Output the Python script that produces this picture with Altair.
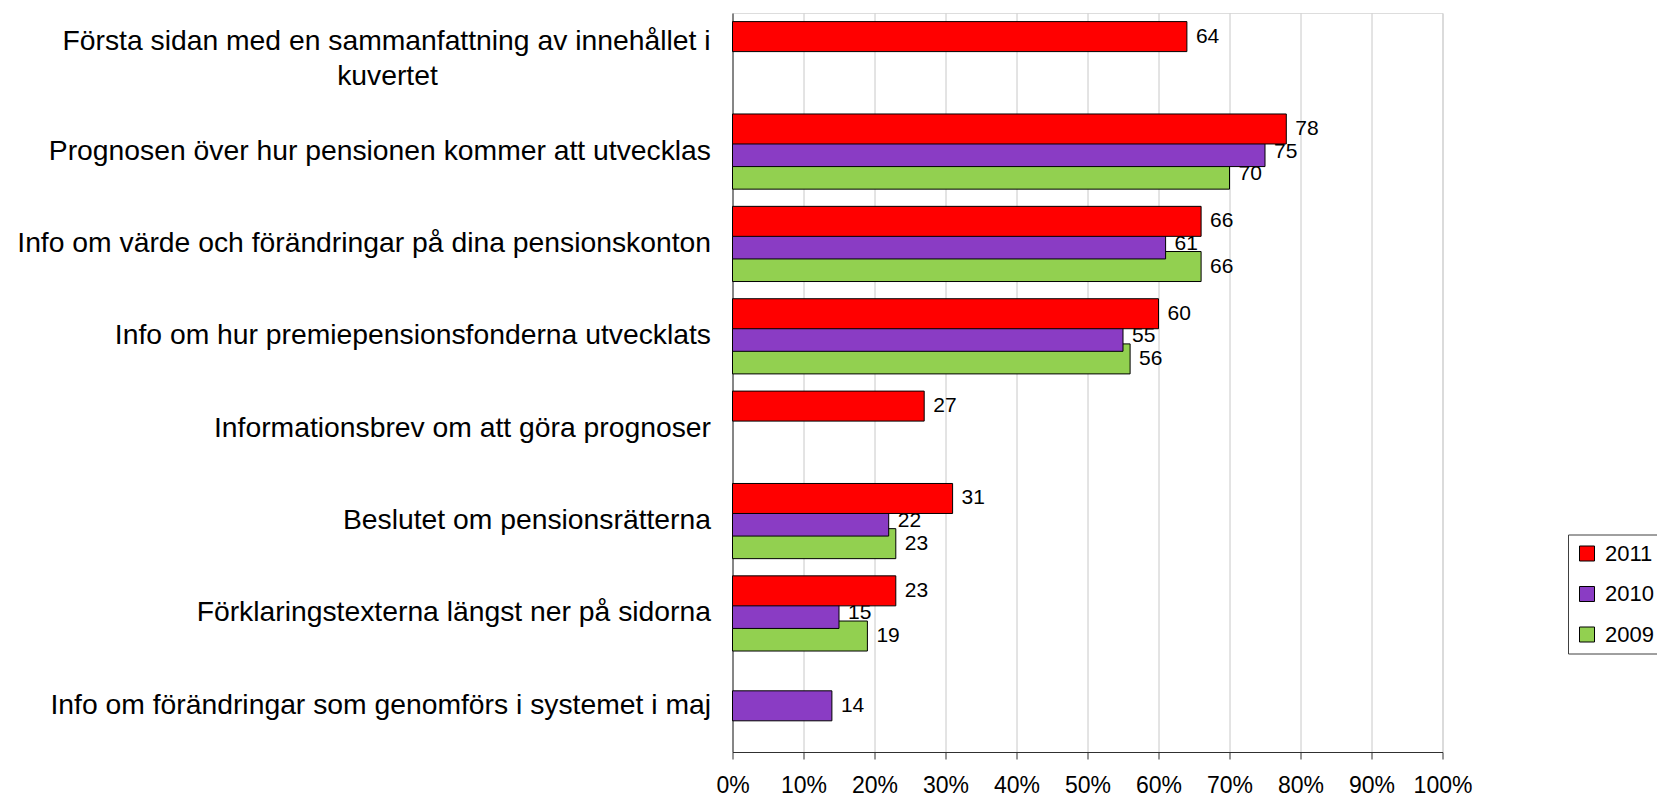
import altair as alt
import pandas as pd

categories = [
    "Första sidan med en sammanfattning av innehållet i kuvertet",
    "Prognosen över hur pensionen kommer att utvecklas",
    "Info om värde och förändringar på dina pensionskonton",
    "Info om hur premiepensionsfonderna utvecklats",
    "Informationsbrev om att göra prognoser",
    "Beslutet om pensionsrätterna",
    "Förklaringstexterna längst ner på sidorna",
    "Info om förändringar som genomförs i systemet i maj",
]
years = ["2011", "2010", "2009"]
v2011 = [64, 78, 66, 60, 27, 31, 23, None]
v2010 = [None, 75, 61, 55, None, 22, 15, 14]
v2009 = [None, 70, 66, 56, None, 23, 19, None]
colors = ["#FF0000", "#8A3CC4", "#92D050"]
wrapped_lines = ["Första sidan med en sammanfattning av innehållet i", "kuvertet"]
x_ticks = [0, 10, 20, 30, 40, 50, 60, 70, 80, 90, 100]

FONT = "Liberation Sans"

rows = []
for yr, vals in zip(years, [v2011, v2010, v2009]):
    for c, v in zip(categories, vals):
        if v is not None:
            rows.append({"category": c, "year": yr, "value": v})
df = pd.DataFrame(rows)

y_enc = alt.Y(
    "category:N",
    sort=categories,
    scale=alt.Scale(domain=categories, paddingInner=0, paddingOuter=0),
    axis=alt.Axis(
        title=None,
        labelFont=FONT,
        labelFontSize=28.3,
        labelColor="black",
        labelPadding=22,
        labelLimit=1000,
        ticks=False,
        tickSize=0,
        domainColor="#303030",
        domainWidth=1,
        grid=False,
        labelExpr="indexof(datum.label, 'Första') == 0 ? '' : datum.label",
    ),
)
x_enc = alt.X(
    "value:Q",
    scale=alt.Scale(domain=[0, 100], nice=False, zero=True),
    axis=alt.Axis(
        title=None,
        values=x_ticks,
        labelExpr="datum.value + '%'",
        labelFont=FONT,
        labelFontSize=23,
        labelColor="black",
        labelPadding=15,
        labelOverlap=False,
        labelBound=False,
        labelFlush=False,
        tickSize=7,
        tickColor="#303030",
        domainColor="#303030",
        grid=True,
        gridColor="#C8C8C8",
        gridWidth=1,
    ),
)
yoff_enc = alt.YOffset(
    "year:N",
    scale=alt.Scale(domain=years, paddingInner=0, paddingOuter=0.545),
)
color_enc = alt.Color(
    "year:N",
    scale=alt.Scale(domain=years, range=colors),
    legend=alt.Legend(
        title=None,
        orient="none",
        legendX=835.5,
        legendY=521.5,
        symbolType="square",
        symbolSize=225,
        symbolStrokeColor="black",
        symbolStrokeWidth=1,
        symbolOpacity=1,
        labelFont=FONT,
        labelFontSize=22,
        labelColor="black",
        labelOffset=7,
        rowPadding=18.5,
        padding=8,
        strokeColor="#404040",
        fillColor="white",
    ),
)

layers = []
for yr in ["2009", "2010", "2011"]:
    sub = df[df["year"] == yr]
    bars = alt.Chart(sub).mark_bar(height=30, stroke="black", strokeWidth=1).encode(
        x=x_enc, y=y_enc, yOffset=yoff_enc, color=color_enc
    )
    labels = alt.Chart(sub).mark_text(
        align="left", baseline="middle", dx=9, fontSize=21, font=FONT, color="black"
    ).encode(x=x_enc, y=y_enc, yOffset=yoff_enc, text=alt.Text("value:Q"))
    layers += [bars, labels]

wrap_df = pd.DataFrame({"category": [categories[0]], "l1": [wrapped_lines[0]], "l2": [wrapped_lines[1]]})
line1 = alt.Chart(wrap_df).mark_text(
    align="right", baseline="middle", dy=-17, fontSize=28.3, font=FONT, color="black"
).encode(x=alt.value(-22), y=y_enc, text="l1:N")
line2 = alt.Chart(wrap_df).mark_text(
    align="center", baseline="middle", dy=17.5, fontSize=28.3, font=FONT, color="black"
).encode(x=alt.value(-345), y=y_enc, text="l2:N")
layers += [line1, line2]

chart = alt.layer(*layers).properties(
    width=710,
    height=739,
    autosize=alt.AutoSizeParams(type="none"),
    padding={"left": 724.5, "top": 5, "right": 214.5, "bottom": 48},
).configure_view(stroke=None).configure(background="white")

chart.save("out.html", embed_options={"renderer": "svg", "actions": False})
